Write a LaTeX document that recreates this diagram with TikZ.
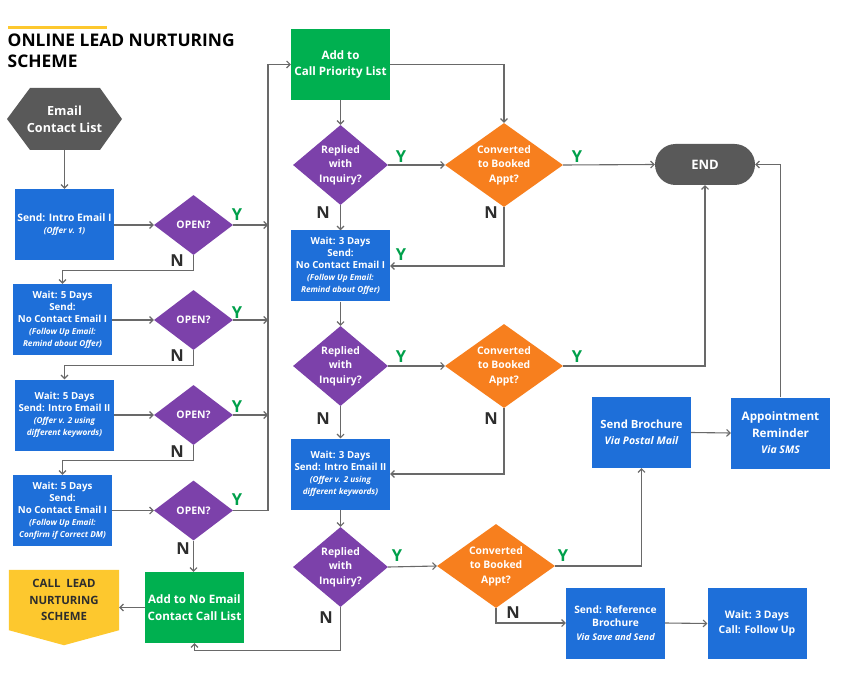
\documentclass[tikz,border=0pt]{standalone}
\usepackage{fontspec}
\setmainfont{Open Sans}
\usetikzlibrary{arrows.meta,shapes.geometric,calc,backgrounds}
\definecolor{eblue}{RGB}{30,111,217}
\definecolor{epurple}{RGB}{124,65,170}
\definecolor{eorange}{RGB}{247,127,30}
\definecolor{egreen}{RGB}{0,176,80}
\definecolor{dgray}{RGB}{89,89,89}
\definecolor{eyel}{RGB}{253,200,46}
\definecolor{ygreen}{RGB}{0,160,75}
\definecolor{ndark}{RGB}{45,45,45}
\definecolor{agray}{RGB}{105,105,105}
\newcommand\fsz[2]{\fontsize{#1}{#2}\selectfont}
\newcommand\ital[1]{{\itshape\fsz{8.2}{11.5}#1}}
\begin{document}
\begin{tikzpicture}[x=1pt,y=-1pt,
  box/.style={fill=eblue,text=white,inner sep=1pt,align=center,minimum width=99pt,minimum height=71pt,font=\bfseries\fsz{9.7}{12}},
  gbox/.style={box,fill=egreen,font=\bfseries\fsz{11.6}{16.5}},
  pdia/.style={diamond,fill=epurple,inner sep=0pt,minimum width=79pt,minimum height=60pt},
  rdia/.style={diamond,fill=epurple,inner sep=0pt,minimum width=95pt,minimum height=80pt},
  odia/.style={diamond,fill=eorange,inner sep=0pt,minimum width=118pt,minimum height=84pt},
  dtxt/.style={text=white,align=center,font=\bfseries\fsz{10.4}{14.5}},
  ylab/.style={text=ygreen,font=\bfseries\fsz{16.5}{16.5}},
  nlab/.style={text=ndark,font=\bfseries\fsz{16.5}{16.5}},
  ln/.style={draw=agray,line width=1.1pt},
  arr/.style={ln,-{Straight Barb[length=3.5pt,width=7pt]}}
]
\begin{scope}[on background layer]
\fill[white] (0,0) rectangle (845,684);
\end{scope}
\useasboundingbox (0,0) rectangle (845,684);
% title
\draw[eyel,line width=3.5pt] (8,27.5) -- (107,27.5);
\node[anchor=base west,align=left,inner sep=0pt,font=\bfseries\fsz{17.4}{21},text=black] (title) at (7.5,68) {ONLINE LEAD NURTURING\\SCHEME};
% start hexagon
\node[text=white,align=center,font=\bfseries\fsz{12.6}{17},minimum width=115pt,minimum height=62pt,inner sep=0pt,
  path picture={\fill[dgray] (path picture bounding box.west) -- ([xshift=23pt]path picture bounding box.north west) -- ([xshift=-22pt]path picture bounding box.north east) -- (path picture bounding box.east) -- ([xshift=-22pt]path picture bounding box.south east) -- ([xshift=23pt]path picture bounding box.south west) -- cycle;}] (ecl) at (64.5,119) {Email\\Contact List};
% left column
\node[box] (b1) at (64.5,224.5) {{\fsz{10.3}{15}Send: Intro Email I}\\\ital{(Offer v. 1)}};
\node[box] (b2) at (62.5,319.5) {Wait: 5 Days\\Send:\\No Contact Email I\\\ital{(Follow Up Email:}\\\ital{Remind about Offer)}};
\node[box] (b3) at (64.5,415) {Wait: 5 Days\\Send: Intro Email II\\\ital{(Offer v. 2 using}\\\ital{different keywords)}};
\node[box] (b4) at (62.5,510.5) {Wait: 5 Days\\Send:\\No Contact Email I\\\ital{(Follow Up Email:}\\\ital{Confirm if Correct DM)}};
\foreach \i/\yy in {1/225,2/320,3/415,4/510.5}{
  \node[pdia,label={[dtxt]center:OPEN?}] (o\i) at (193.5,\yy) {};
}
\node[gbox] (nec) at (194.5,607.5) {Add to No Email\\Contact Call List};
\node[text=ndark,align=center,font=\bfseries\fsz{11.4}{16.5},minimum width=110pt,minimum height=60pt,inner sep=0pt] (cln) at (64,600) {CALL\ \ LEAD\\NURTURING\\SCHEME};
\begin{scope}[on background layer]
\fill[eyel] (cln.north west) -- (cln.north east) -- (cln.south east) -- ($(cln.south)+(0,15)$) -- (cln.south west) -- cycle;
\end{scope}
% middle column
\node[gbox] (cpl) at (340.5,64.5) {Add to\\Call Priority List};
\node[rdia,label={[dtxt]center:{Replied\\with\\Inquiry?}}] (r1) at (340.5,165) {};
\node[odia,label={[dtxt]center:{Converted\\to Booked\\Appt?}}] (c1) at (504,165) {};
\node[fill=dgray,rounded corners=20.5pt,minimum width=100pt,minimum height=41pt,inner sep=0pt,text=white,font=\bfseries\fsz{13}{16}] (end) at (705,164.5) {END};
\node[box] (w1) at (340.5,266) {Wait: 3 Days\\Send:\\No Contact Email I\\\ital{(Follow Up Email:}\\\ital{Remind about Offer)}};
\node[rdia,label={[dtxt]center:{Replied\\with\\Inquiry?}}] (r2) at (340.5,366) {};
\node[odia,label={[dtxt]center:{Converted\\to Booked\\Appt?}}] (c2) at (504,366) {};
\node[box] (w2) at (340.5,474) {Wait: 3 Days\\Send: Intro Email II\\\ital{(Offer v. 2 using}\\\ital{different keywords)}};
\node[rdia,label={[dtxt]center:{Replied\\with\\Inquiry?}}] (r3) at (340.5,567) {};
\node[odia,label={[dtxt]center:{Converted\\to Booked\\Appt?}}] (c3) at (496,566) {};
% right side
\node[box,font=\bfseries\fsz{11.3}{15.5}] (sb) at (641.5,432.5) {Send Brochure\\{\itshape\fsz{10.5}{14}Via Postal Mail}};
\node[box,font=\bfseries\fsz{11.7}{16.5}] (ar) at (780.5,433) {Appointment\\Reminder\\{\itshape\fsz{10.5}{15}Via SMS}};
\node[box,font=\bfseries\fsz{10.2}{13.5}] (sr) at (615.5,623) {Send: Reference\\Brochure\\{\itshape\fsz{9.2}{13}Via Save and Send}};
\node[box,font=\bfseries\fsz{10.4}{14.5}] (wc) at (757,623.5) {Wait: 3 Days\\Call: Follow Up};
% connectors left
\coordinate (tk) at (268,64.5);
\draw[arr] (ecl.south) -- (b1.north);
\foreach \i in {1,2,3,4}{ \draw[arr] (b\i.east |- o\i.west) -- (o\i.west); }
\foreach \i in {1,2,3}{ \draw[arr] (o\i.east) -- (o\i.east -| tk); }
\draw[arr] (o4.east) -| (tk) -- (cpl.west);
\draw[arr] (o1.south) -- ++(0,15) -| (b2.north);
\draw[arr] (o2.south) -- ++(0,15) -| (b3.north);
\draw[arr] (o3.south) -- ++(0,15) -| (b4.north);
\draw[arr] (o4.south) -- (o4.south |- nec.north);
\draw[arr] (nec.west) -- (nec.west -| cln.east);
% connectors middle
\draw[arr] (cpl.south) -- (r1.north);
\draw[arr] (cpl.east) -| (c1.north);
\draw[arr] (r1.east) -- (c1.west);
\draw[arr] (c1.east) -- (end.west);
\draw[arr] (r1.south) -- (w1.north);
\draw[arr] (c1.south) |- (w1.east);
\draw[arr] (w1.south) -- (r2.north);
\draw[arr] (r2.east) -- (c2.west);
\draw[arr] (c2.east) -| (end.south);
\draw[arr] (r2.south) -- (w2.north);
\draw[arr] (c2.south) |- (w2.east);
\draw[arr] (w2.south) -- (r3.north);
\draw[arr] (r3.east) -- (c3.west);
\draw[arr] (c3.east) -| (sb.south);
\draw[arr] (c3.south) |- (sr.west);
\draw[arr] (r3.south) -- ++(0,43) -| (nec.south);
\draw[arr] (sb.east) -- (ar.west);
\draw[arr] (ar.north) |- (end.east);
\draw[arr] (sr.east) -- (wc.west);
% Y / N labels
\node[ylab] (y1) at (237,215) {Y};
\node[ylab] (y2) at (237,313) {Y};
\node[ylab] (y3) at (237,407) {Y};
\node[ylab] (y4) at (237,500) {Y};
\node[nlab] (n1) at (177,261) {N};
\node[nlab] (n2) at (177,356) {N};
\node[nlab] (n3) at (177,452) {N};
\node[nlab] (n4) at (183,549) {N};
\node[ylab] (y5) at (401,157) {Y};
\node[ylab] (y6) at (577,157) {Y};
\node[nlab] (n5) at (323,213) {N};
\node[nlab] (n6) at (491,213) {N};
\node[ylab] (y7) at (401,255) {Y};
\node[ylab] (y8) at (401,357) {Y};
\node[ylab] (y9) at (577,357) {Y};
\node[nlab] (n7) at (323,419) {N};
\node[nlab] (n8) at (491,419) {N};
\node[ylab] (y10) at (397,556) {Y};
\node[ylab] (y11) at (563,556) {Y};
\node[nlab] (n9) at (326,618) {N};
\node[nlab] (n10) at (513,613) {N};
\end{tikzpicture}
\end{document}
